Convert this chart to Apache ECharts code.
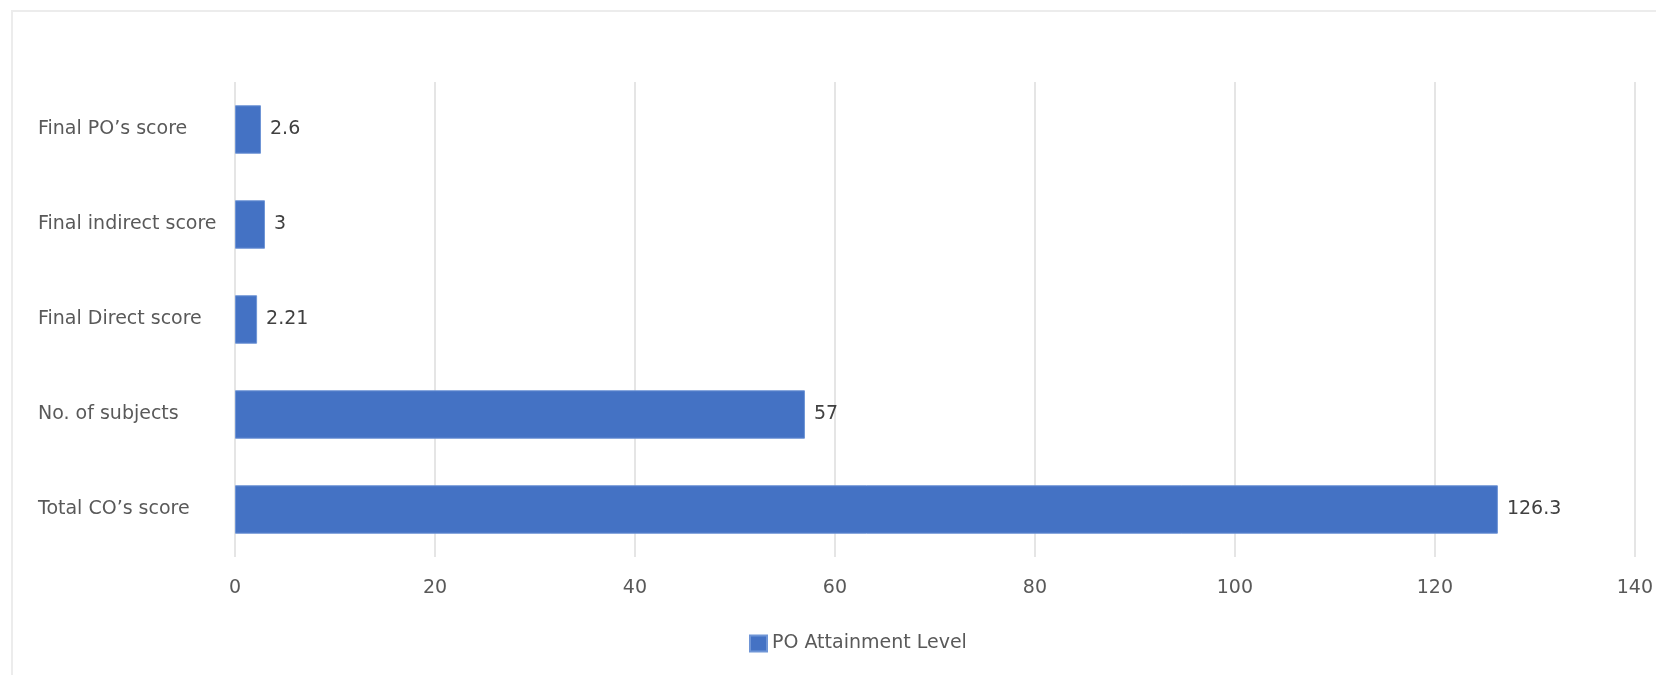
<!DOCTYPE html>
<html>
<head>
<meta charset="utf-8">
<script src="https://cdn.jsdelivr.net/npm/echarts@6/dist/echarts.min.js"></script>
<style>
html,body{margin:0;padding:0;background:#fff;overflow:hidden;}
#frame{position:absolute;left:11px;top:10px;width:1700px;height:700px;border:2px solid #ececec;box-sizing:border-box;}
#chart{position:absolute;left:0;top:0;width:1656px;height:675px;}
</style>
</head>
<body>
<div id="frame"></div>
<div id="chart"></div>
<script>
const categories = ["Total CO\u2019s score", "No. of subjects", "Final Direct score", "Final indirect score", "Final PO\u2019s score"];
const values = [126.3, 57, 2.21, 3, 2.6];
const seriesName = "PO Attainment Level";
const xTicks = { min: 0, max: 140, interval: 20 };

const chart = echarts.init(document.getElementById('chart'), null, { renderer: 'canvas' });
const font = "'DejaVu Sans', 'Liberation Sans', sans-serif";
chart.setOption({
  animation: false,
  backgroundColor: 'transparent',
  grid: { left: 235, right: 20, top: 82, bottom: 118, containLabel: false },
  legend: {
    data: [seriesName],
    left: 744, top: 629,
    icon: 'rect', itemWidth: 17, itemHeight: 16, itemGap: 6,
    textStyle: { color: '#595959', fontSize: 19, fontFamily: font }
  },
  xAxis: {
    type: 'value', min: xTicks.min, max: xTicks.max, interval: xTicks.interval,
    axisLine: { show: false }, axisTick: { show: false },
    splitLine: { show: true, lineStyle: { color: '#dcdcdc', width: 1.5 } },
    axisLabel: { color: '#595959', fontSize: 19, fontFamily: font, margin: 22 }
  },
  yAxis: {
    type: 'category', data: categories,
    axisLine: { show: false }, axisTick: { show: false },
    axisLabel: { color: '#595959', fontSize: 19, fontFamily: font, align: 'left', margin: 197 }
  },
  series: [{
    name: seriesName, type: 'bar', data: values,
    barCategoryGap: '49%',
    itemStyle: { color: '#4472C4', borderColor: '#6f95d6', borderWidth: 1 },
    label: { show: true, position: 'right', distance: 9, color: '#404040', fontSize: 19, fontFamily: font }
  }]
});
</script>
</body>
</html>
